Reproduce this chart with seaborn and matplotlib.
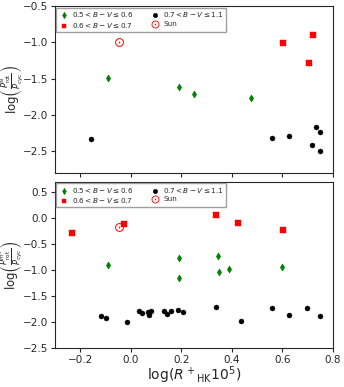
import numpy as np
import pandas as pd
import seaborn as sns
import matplotlib
matplotlib.use("Agg")
import matplotlib.pyplot as plt

# --- top panel data ---
top_g_x = [-0.09, 0.19, 0.25, 0.475]
top_g_y = [-1.49, -1.615, -1.71, -1.77]
top_r_x = [0.604, 0.722, 0.705]
top_r_y = [-1.005, -0.90, -1.29]
top_k_x = [-0.159, 0.557, 0.624, 0.732, 0.75, 0.718, 0.749]
top_k_y = [-2.326, -2.317, -2.289, -2.165, -2.234, -2.408, -2.49]
top_sun = (-0.047, -1.0)

# --- bottom panel data ---
bot_g_x = [-0.089, 0.192, 0.192, 0.346, 0.349, 0.388, 0.599]
bot_g_y = [-0.91, -0.776, -1.154, -0.737, -1.038, -0.98, -0.942]
bot_r_x = [-0.234, -0.028, 0.338, 0.426, 0.604]
bot_r_y = [-0.282, -0.109, 0.058, -0.096, -0.218]
bot_k_x = [-0.118, -0.10, -0.014, 0.032, 0.045, 0.068, 0.072, 0.079, 0.133, 0.142,
           0.157, 0.186, 0.207, 0.336, 0.434, 0.557, 0.624, 0.696, 0.75]
bot_k_y = [-1.891, -1.917, -1.994, -1.788, -1.827, -1.801, -1.865, -1.782, -1.788, -1.853,
           -1.782, -1.776, -1.814, -1.712, -1.974, -1.724, -1.859, -1.737, -1.885]
bot_sun = (-0.047, -0.179)

labels = [r"$0.5 < B-V \leq 0.6$", r"$0.6 < B-V \leq 0.7$",
          r"$0.7 < B-V \leq 1.1$", "Sun"]

sns.set_style("ticks")
fig = plt.figure(figsize=(3.44, 3.87), dpi=100)
ax1 = fig.add_axes([0.160, 0.553, 0.808, 0.431])
ax2 = fig.add_axes([0.160, 0.101, 0.808, 0.429], sharex=ax1)


def panel(ax, gx, gy, rx, ry, kx, ky, sun):
    sns.scatterplot(x=gx, y=gy, ax=ax, color="green", marker="d", s=12,
                    edgecolor="green", linewidth=0.5, label=labels[0])
    sns.scatterplot(x=rx, y=ry, ax=ax, color="red", marker="s", s=13,
                    edgecolor="red", linewidth=0.3, label=labels[1])
    sns.scatterplot(x=kx, y=ky, ax=ax, color="black", marker="o", s=13,
                    edgecolor="black", linewidth=0.3, label=labels[2])
    sns.scatterplot(x=[sun[0]], y=[sun[1]], ax=ax, color="red",
                    marker=r"$\odot$", s=40, linewidth=0, label=labels[3])
    h, l = ax.get_legend_handles_labels()
    leg = ax.legend(h, l, ncol=2, loc="upper left", fontsize=5.2, frameon=True,
                    fancybox=False, edgecolor="#888888", borderpad=0.3,
                    handletextpad=0.3, handlelength=1.6, columnspacing=2.2,
                    labelspacing=0.25, markerscale=0.9, borderaxespad=0.2)
    leg.get_frame().set_linewidth(1.0)
    ax.tick_params(labelsize=7.5, length=3, width=0.8, pad=2)
    for sp in ax.spines.values():
        sp.set_linewidth(0.8)


panel(ax1, top_g_x, top_g_y, top_r_x, top_r_y, top_k_x, top_k_y, top_sun)
panel(ax2, bot_g_x, bot_g_y, bot_r_x, bot_r_y, bot_k_x, bot_k_y, bot_sun)

ax1.set_xlim(-0.3, 0.8)
ax1.set_ylim(-2.8, -0.5)
ax2.set_ylim(-2.5, 0.7)
ax1.set_yticks([-2.5, -2.0, -1.5, -1.0, -0.5])
ax2.set_yticks([-2.5, -2.0, -1.5, -1.0, -0.5, 0.0, 0.5])
ax2.set_xticks([-0.2, 0.0, 0.2, 0.4, 0.6, 0.8])
plt.setp(ax1.get_xticklabels(), visible=False)

ax1.set_ylabel(r"log$\left(\frac{P^{\rm sl}_{\rm rot}}{P_{\rm cyc}}\right)$", fontsize=8.5)
ax2.set_ylabel(r"log$\left(\frac{P^{m^5}_{\rm rot}}{P_{\rm cyc}}\right)$", fontsize=8.5)
ax1.yaxis.set_label_coords(-0.108, 0.5)
ax2.yaxis.set_label_coords(-0.108, 0.5)
ax2.set_xlabel(r"log($R^+$$_{\rm HK}$10$^5$)", fontsize=10, labelpad=0)

fig.savefig("out.png", dpi=100)
